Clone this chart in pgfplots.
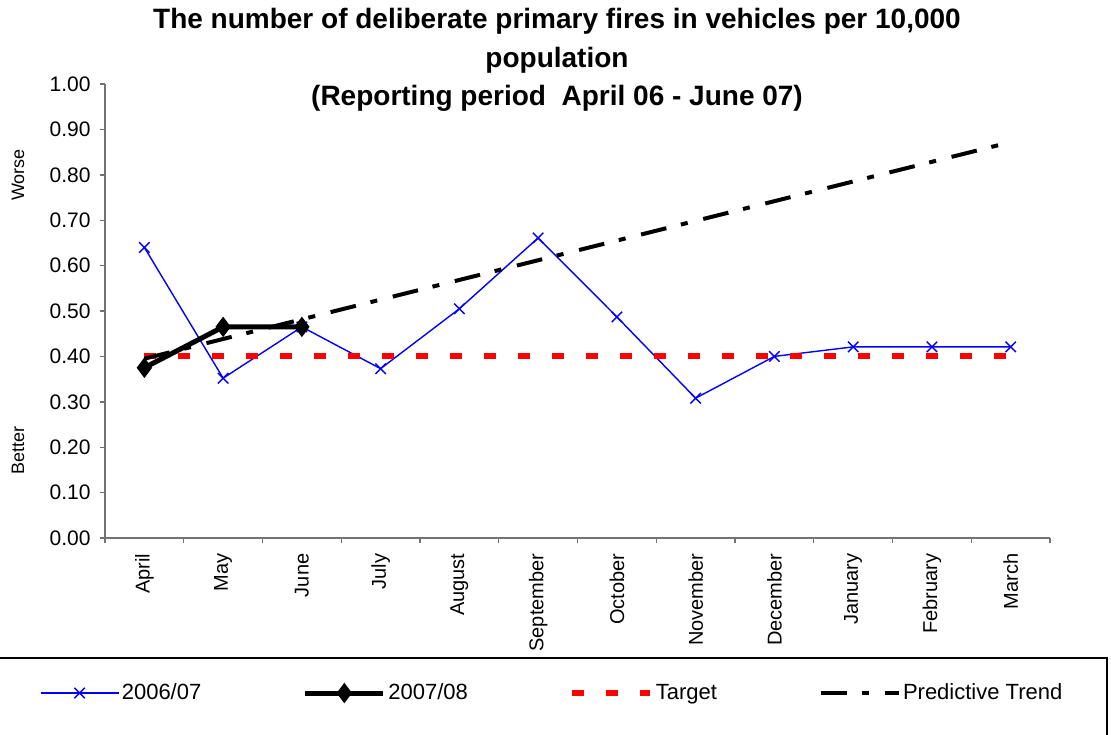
\documentclass[border=0pt]{standalone}
\usepackage{fontspec}
\setmainfont{Liberation Sans}
\usepackage{pgfplots}
\pgfplotsset{compat=1.18}

\definecolor{exblue}{RGB}{0,0,255}
\definecolor{exred}{RGB}{255,0,0}

\begin{document}
\begin{tikzpicture}
\useasboundingbox (-52.5pt,-98pt) rectangle (503pt,269pt);
\begin{axis}[%
    width=472.5pt, height=227pt, scale only axis,
    xmin=-0.5, xmax=11.5, ymin=0, ymax=1,
    axis lines*=left,
    axis line style={-, draw=black!55, line width=0.7pt},
    tick align=outside,
    major tick length=2.5pt,
    minor tick length=2.5pt,
    tick style={draw=black!55, line width=0.7pt},
    xtick={0,...,11},
    xticklabels={April,May,June,July,August,September,October,November,December,January,February,March},
    minor xtick={-0.5,0.5,...,11.5},
    major x tick style={draw=none},
    xticklabel style={rotate=90, anchor=east, font=\fontsize{10}{12}\selectfont, xshift=-1.8pt},
    ytick={0,0.1,...,1.01},
    yticklabel style={/pgf/number format/.cd, fixed, fixed zerofill, precision=2,
        /tikz/.cd, font=\fontsize{10.5}{12}\selectfont, xshift=-1.2pt},
    /pgf/number format/assume math mode=true,
    clip=false,
    legend columns=4,
    legend style={draw=none, fill=none,
        at={(axis description cs:-0.0693,-0.3414)}, anchor=west,
        inner xsep=0pt, inner ysep=0pt,
        nodes={inner sep=1.25pt},
        font=\fontsize{11}{13}\selectfont,
        /tikz/every even column/.append style={column sep=49.5pt}},
    legend image code/.code={%
        \draw[mark repeat=2,mark phase=2,#1] plot coordinates {(0pt,0pt) (19.5pt,0pt) (39pt,0pt)};},
]
% 2006/07
\addplot[color=exblue, line width=0.7pt, mark=x, mark size=3.7pt] coordinates {
    (0,0.64) (1,0.352) (2,0.465) (3,0.373) (4,0.505) (5,0.661)
    (6,0.487) (7,0.308) (8,0.40) (9,0.421) (10,0.421) (11,0.421)};
% 2007/08
\addplot[color=black, line width=2.5pt, mark=diamond*, mark size=4.3pt,
    mark options={line width=1pt}] coordinates {(0,0.375) (1,0.465) (2,0.465)};
% Target
\addplot[color=exred, line width=3pt, dash pattern=on 6pt off 11pt] coordinates {(0,0.40) (11,0.40)};
% Predictive trend
\addplot[color=black, line width=2pt, dash pattern=on 13pt off 7.5pt on 3.5pt off 8pt] coordinates {(0,0.395) (11,0.872)};
\legend{2006/07, 2007/08, Target, Predictive Trend}

\node[rotate=90, font=\fontsize{9}{11}\selectfont] at (axis description cs:-0.092,0.7996) {Worse};
\node[rotate=90, font=\fontsize{9}{11}\selectfont] at (axis description cs:-0.092,0.1938) {Better};
\node[anchor=north, align=center, inner sep=0pt, font=\fontsize{14}{19.25}\selectfont\bfseries]
    at (axis description cs:0.4783,1.1674)
    {The number of deliberate primary fires in vehicles per 10,000\\population\\(Reporting period\ \ April 06 - June 07)};
\end{axis}
\draw[line width=0.8pt] (-55pt,-60pt) rectangle (501pt,-110pt);
\end{tikzpicture}
\end{document}
